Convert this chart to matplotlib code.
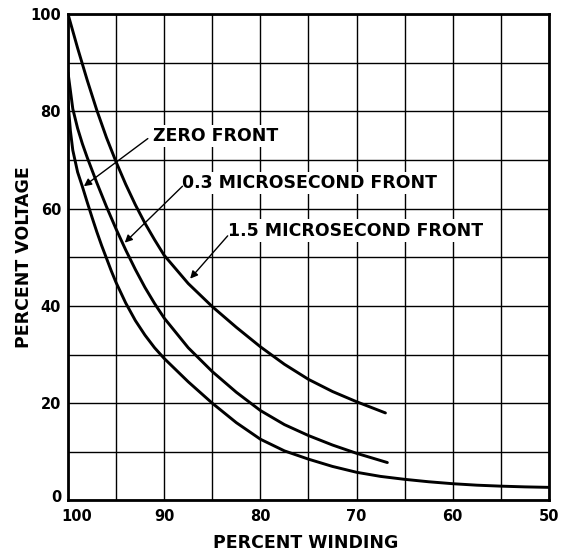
import matplotlib
matplotlib.use('Agg')
import matplotlib.pyplot as plt
from matplotlib.ticker import MultipleLocator
from matplotlib.transforms import ScaledTranslation

# ---- data ----
# ZERO FRONT (lowest curve)
zero_x = [100, 99.75, 99.5, 99.0, 98.5, 98.0, 97.5, 97.0, 96.5, 96.0, 95.5, 95.0,
          94.0, 93.0, 92.0, 91.0, 90.0, 87.5, 85.0, 82.5, 80.0, 77.5, 75.0,
          72.5, 70.0, 67.5, 65.0, 62.5, 60.0, 57.5, 55.0, 52.5, 50.0]
zero_v = [82, 76, 72, 67.5, 64.5, 61.3, 58.2, 55.2, 52.4, 49.8, 47.2, 44.8,
          40.6, 37.0, 34.0, 31.4, 29.2, 24.4, 20.0, 16.0, 12.6, 10.2, 8.5,
          7.0, 5.8, 4.95, 4.35, 3.85, 3.45, 3.15, 2.95, 2.8, 2.7]
# 0.3 MICROSECOND FRONT (middle curve)
mid_x = [100, 99.5, 99.0, 98.5, 98.0, 97.0, 96.0, 95.0, 94.0, 93.0, 92.0, 91.0,
         90.0, 87.5, 85.0, 82.5, 80.0, 77.5, 75.0, 72.5, 70.0, 66.8]
mid_v = [88, 80.5, 76.5, 73.3, 70.5, 65.3, 60.4, 55.8, 51.5, 47.5, 43.8, 40.5,
         37.5, 31.4, 26.5, 22.25, 18.5, 15.6, 13.35, 11.4, 9.7, 7.8]
# 1.5 MICROSECOND FRONT (top curve)
top_x = [100, 99, 98, 97, 96, 95, 94, 93, 92, 91, 90, 87.5, 85, 82.5, 80,
         77.5, 75, 72.5, 70, 67]
top_v = [100, 93, 86.4, 80.2, 74.6, 69.6, 65.0, 60.8, 57.0, 53.6, 50.4, 44.6,
         39.85, 35.6, 31.6, 28.0, 24.9, 22.4, 20.3, 18.0]

x_ticks = [100, 90, 80, 70, 60, 50]
y_ticks = [0, 20, 40, 60, 80, 100]
labels = ["ZERO FRONT", "0.3 MICROSECOND FRONT", "1.5 MICROSECOND FRONT"]

plt.rcParams['font.family'] = ['DejaVu Sans']
plt.rcParams['font.weight'] = 'bold'

fig = plt.figure(figsize=(5.68, 5.52), dpi=100)
ax = fig.add_axes([0.1197, 0.0933, 0.8468, 0.8813])
ax.set_xlim(100, 50)
ax.set_ylim(0, 100)

ax.set_xticks(x_ticks)
ax.set_xticklabels([str(t) for t in x_ticks])
ax.xaxis.set_minor_locator(MultipleLocator(5))
ax.set_yticks(y_ticks)
ax.set_yticklabels([str(t) for t in y_ticks])
ax.yaxis.set_minor_locator(MultipleLocator(10))
ax.tick_params(which='both', length=0)
ax.tick_params(axis='x', pad=6, labelsize=10.5)
ax.tick_params(axis='y', pad=5, labelsize=10.5)
for lab in ax.get_xticklabels():
    lab.set_fontweight('bold')
for lab in ax.get_yticklabels():
    lab.set_fontweight('bold')
# shift "100" on x slightly right and "0" on y slightly up, as in the original
xl = ax.get_xticklabels()[0]
xl.set_transform(xl.get_transform() + ScaledTranslation(6/72, 0, fig.dpi_scale_trans))
yl = ax.get_yticklabels()[0]
yl.set_transform(yl.get_transform() + ScaledTranslation(0, 3/72, fig.dpi_scale_trans))

ax.set_axisbelow(True)
ax.grid(which='both', color='black', lw=1.0)
for s in ax.spines.values():
    s.set_linewidth(2.0)
    s.set_color('black')

for xs, vs in [(zero_x, zero_v), (mid_x, mid_v), (top_x, top_v)]:
    ax.plot(xs, vs, color='black', lw=2.1, solid_capstyle='round',
            solid_joinstyle='round', zorder=3)

# labels with leader arrows
label_pos = [(91.2, 75.0), (88.1, 65.3), (83.4, 55.5)]
arrow_start = [(91.7, 74.4), (88.1, 64.6), (83.4, 54.4)]
arrow_tip = [(98.35, 64.6), (94.1, 53.0), (87.3, 45.6)]
for txt, pos, st, tip in zip(labels, label_pos, arrow_start, arrow_tip):
    ax.text(pos[0], pos[1], txt, ha='left', va='center', fontsize=12.5,
            fontweight='bold', zorder=4, bbox=dict(fc='white', ec='none', pad=1.5))
    ax.annotate('', xy=tip, xytext=st,
                arrowprops=dict(arrowstyle='-|>', color='black', lw=1.0,
                                mutation_scale=11, shrinkA=0, shrinkB=0),
                zorder=5)

fig.text(306/568, 1 - 543/552, "PERCENT WINDING", ha='center', va='center',
         fontsize=12.5, fontweight='bold')
fig.text(24/568, 1 - 257/552, "PERCENT VOLTAGE", ha='center', va='center',
         rotation=90, fontsize=12.5, fontweight='bold')

fig.savefig('out.png', dpi=100, facecolor='white')
